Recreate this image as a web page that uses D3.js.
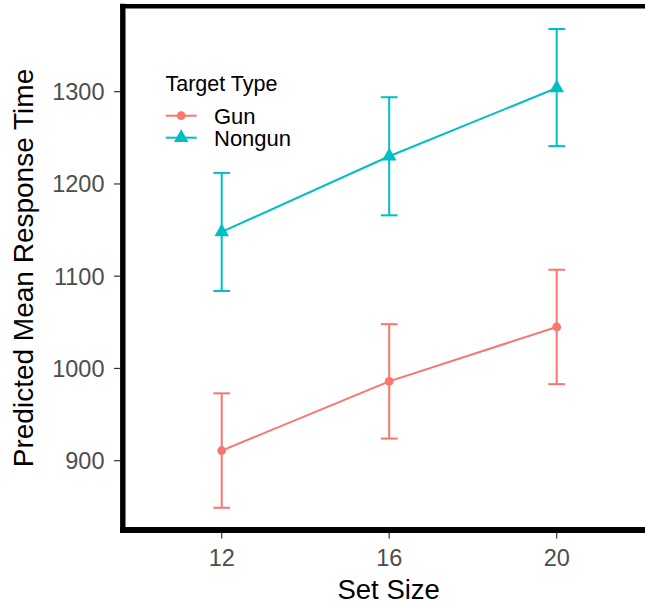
<!DOCTYPE html>
<html>
<head>
<meta charset="utf-8">
<script src="https://cdn.jsdelivr.net/npm/d3@7"></script>
<style>
    body { margin: 0; background: #fff; }
    text { font-family: "Liberation Sans", Arial, sans-serif; }
</style>
</head>
<body>
<div id="chart"></div>
<script>

// Values
const set_sizes = [12, 16, 20];
const y_ticks = [900, 1000, 1100, 1200, 1300];
const target_types = ["Gun", "Nongun"];
const gun_mean = [911, 986, 1045];
const gun_lower = [849, 924, 983];
const gun_upper = [973, 1048, 1107];
const nongun_mean = [1148, 1230, 1304];
const nongun_lower = [1084, 1166, 1241];
const nongun_upper = [1212, 1294, 1368];

const width = 645, height = 607;
const colors = { Gun: "#F8766D", Nongun: "#00BFC4" };

const series = [
    { name: "Gun", mean: gun_mean, lower: gun_lower, upper: gun_upper },
    { name: "Nongun", mean: nongun_mean, lower: nongun_lower, upper: nongun_upper }
].map(s => ({
    name: s.name,
    values: set_sizes.map((x, i) => ({ x, y: s.mean[i], lo: s.lower[i], hi: s.upper[i] }))
}));

const svg = d3.select("#chart").append("svg")
    .attr("width", width)
    .attr("height", height);

// Panel edges (left, top, bottom), right side falls outside the picture
const panel = { left: 122.8, top: 6.2, bottom: 530 };

const x = d3.scaleLinear().domain([12, 20]).range([221.7, 556.7]);
const y = d3.scaleLinear().domain([900, 1300]).range([460.7, 91.7]);

// Ticks
svg.append("g")
    .selectAll("line")
    .data(y_ticks)
    .join("line")
    .attr("x1", 114).attr("x2", 121)
    .attr("y1", d => y(d)).attr("y2", d => y(d))
    .attr("stroke", "#333333")
    .attr("stroke-width", 1.2);

svg.append("g")
    .selectAll("text")
    .data(y_ticks)
    .join("text")
    .attr("x", 104.5)
    .attr("y", d => y(d))
    .attr("dy", "0.36em")
    .attr("text-anchor", "end")
    .attr("font-size", "23.5px")
    .attr("fill", "#4D4D4D")
    .text(d => d);

svg.append("g")
    .selectAll("line")
    .data(set_sizes)
    .join("line")
    .attr("x1", d => x(d)).attr("x2", d => x(d))
    .attr("y1", 531).attr("y2", 538.5)
    .attr("stroke", "#333333")
    .attr("stroke-width", 1.2);

svg.append("g")
    .selectAll("text")
    .data(set_sizes)
    .join("text")
    .attr("x", d => x(d))
    .attr("y", 566)
    .attr("text-anchor", "middle")
    .attr("font-size", "23.5px")
    .attr("fill", "#4D4D4D")
    .text(d => d);

// Error bars
const cap = 0.2;
const bars = svg.append("g")
    .selectAll("g")
    .data(series)
    .join("g")
    .attr("stroke", d => colors[d.name])
    .attr("stroke-width", 2)
    .attr("fill", "none");

bars.selectAll(".vert")
    .data(d => d.values)
    .join("line")
    .attr("class", "vert")
    .attr("x1", d => x(d.x)).attr("x2", d => x(d.x))
    .attr("y1", d => y(d.lo)).attr("y2", d => y(d.hi));

bars.selectAll(".cap")
    .data(d => d.values.flatMap(v => [{ x: v.x, y: v.lo }, { x: v.x, y: v.hi }]))
    .join("line")
    .attr("class", "cap")
    .attr("x1", d => x(d.x - cap)).attr("x2", d => x(d.x + cap))
    .attr("y1", d => y(d.y)).attr("y2", d => y(d.y));

// Lines
const line = d3.line().x(d => x(d.x)).y(d => y(d.y));
svg.append("g")
    .selectAll("path")
    .data(series)
    .join("path")
    .attr("d", d => line(d.values))
    .attr("fill", "none")
    .attr("stroke", d => colors[d.name])
    .attr("stroke-width", 2);

// Points: circle for Gun, triangle for Nongun
const shape = {
    Gun: d3.symbol(d3.symbolCircle, 60),
    Nongun: d3.symbol(d3.symbolTriangle, 92)
};
svg.append("g")
    .selectAll("g")
    .data(series)
    .join("g")
    .attr("fill", d => colors[d.name])
    .each(function(s) {
        d3.select(this).selectAll("path")
            .data(s.values)
            .join("path")
            .attr("transform", d => `translate(${x(d.x)},${y(d.y)})`)
            .attr("d", shape[s.name]());
    });

// Thick panel border
const border = svg.append("g")
    .attr("stroke", "#000")
    .attr("stroke-width", 5.4);
border.append("line")
    .attr("x1", panel.left).attr("x2", panel.left)
    .attr("y1", panel.top - 2.4).attr("y2", panel.bottom + 3);
border.append("line")
    .attr("x1", panel.left - 2.7).attr("x2", width + 5)
    .attr("y1", panel.top).attr("y2", panel.top)
    .attr("stroke-width", 4.5);
border.append("line")
    .attr("x1", panel.left - 2.7).attr("x2", width + 5)
    .attr("y1", panel.bottom).attr("y2", panel.bottom)
    .attr("stroke-width", 6);

// Axis titles
svg.append("text")
    .attr("x", 388.7)
    .attr("y", 599.3)
    .attr("text-anchor", "middle")
    .attr("font-size", "27.5px")
    .attr("fill", "#000")
    .text("Set Size");

svg.append("text")
    .attr("transform", `translate(32.7,268) rotate(-90)`)
    .attr("text-anchor", "middle")
    .attr("font-size", "28px")
    .attr("fill", "#000")
    .text("Predicted Mean Response Time");

// Legend
const legend = svg.append("g");
legend.append("text")
    .attr("x", 165.5)
    .attr("y", 91.3)
    .attr("font-size", "21.5px")
    .attr("fill", "#000")
    .text("Target Type");

const key_y = [115.7, 137.7];
const item = legend.selectAll(".item")
    .data(target_types)
    .join("g")
    .attr("class", "item")
    .attr("transform", (d, i) => `translate(0,${key_y[i]})`);
item.append("line")
    .attr("x1", 165.7).attr("x2", 196.7)
    .attr("stroke", d => colors[d])
    .attr("stroke-width", 2);
item.append("path")
    .attr("transform", "translate(181.2,0)")
    .attr("d", d => shape[d]())
    .attr("fill", d => colors[d]);
item.append("text")
    .attr("x", 214)
    .attr("y", 0)
    .attr("dy", "0.36em")
    .attr("font-size", "22px")
    .attr("fill", "#000")
    .text(d => d);

</script>
</body>
</html>
